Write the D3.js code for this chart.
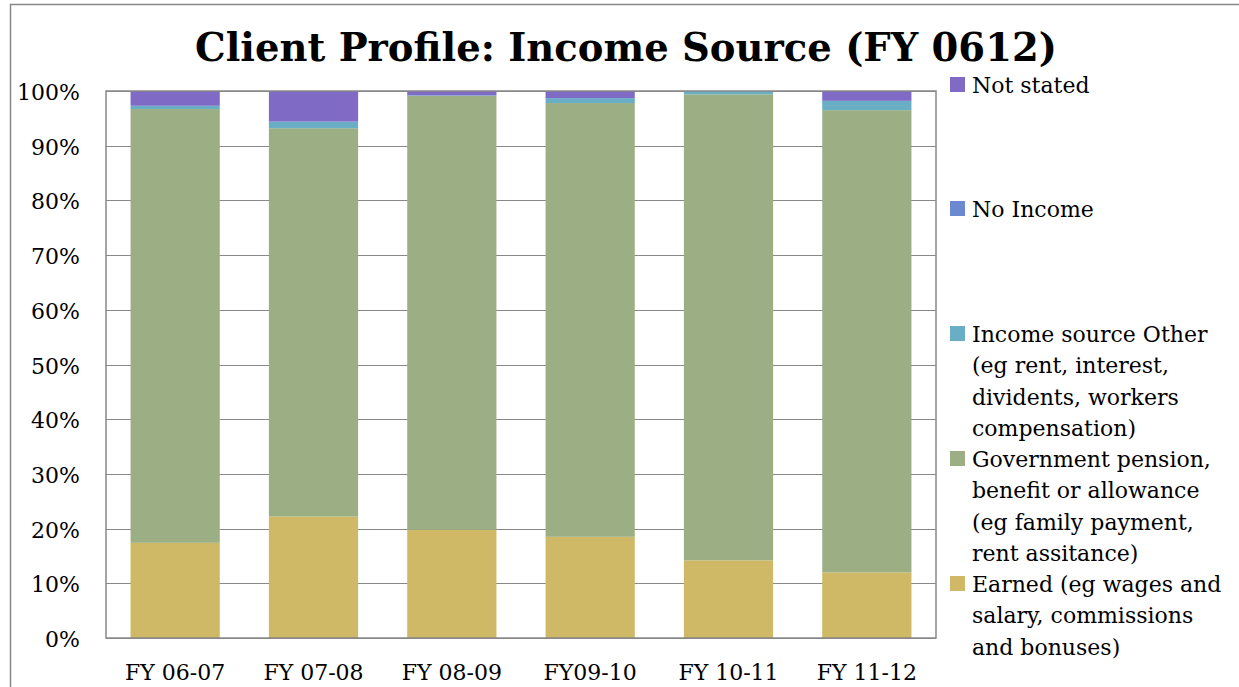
<!DOCTYPE html>
<html>
<head>
<meta charset="utf-8">
<script src="https://cdn.jsdelivr.net/npm/d3@7"></script>
<style>
  html, body { margin: 0; padding: 0; background: #fff; }
  svg text { font-family: "DejaVu Serif", "Liberation Serif", serif; fill: #000; }
</style>
</head>
<body>
<svg id="chart" width="1239" height="687"></svg>
<script>
// chart data (percent of clients)
const years = ["FY 06-07", "FY 07-08", "FY 08-09", "FY09-10", "FY 10-11", "FY 11-12"];
const earned = [17.4, 22.2, 19.8, 18.5, 14.2, 12.0];
const pension = [79.3, 71.0, 79.3, 79.3, 85.2, 84.5];
const other = [0.6, 1.2, 0.1, 0.9, 0.6, 1.7];
const noIncome = [0, 0, 0, 0, 0, 0];
const notStated = [2.7, 5.6, 0.8, 1.3, 0, 1.8];
const yTicks = [0, 10, 20, 30, 40, 50, 60, 70, 80, 90, 100];

const seriesNames = ["earned", "pension", "other", "noIncome", "notStated"];
const colors = {
  earned: "#cfb966",
  pension: "#9caf84",
  other: "#6aaec6",
  noIncome: "#6a89d0",
  notStated: "#7f6bc6"
};
const legendItems = [
  { key: "notStated", lines: ["Not stated"], y: 93 },
  { key: "noIncome", lines: ["No Income"], y: 217 },
  { key: "other", lines: ["Income source Other", "(eg rent, interest,", "dividents, workers", "compensation)"], y: 342 },
  { key: "pension", lines: ["Government pension,", "benefit or allowance", "(eg family payment,", "rent assitance)"], y: 467 },
  { key: "earned", lines: ["Earned (eg wages and", "salary, commissions", "and bonuses)"], y: 592 }
];

const table = years.map((y, i) => ({
  year: y,
  earned: earned[i],
  pension: pension[i],
  other: other[i],
  noIncome: noIncome[i],
  notStated: notStated[i]
}));

const svg = d3.select("#chart");
const margin = { top: 91, right: 303, bottom: 49, left: 106 };
const width = 1239, height = 687;

// outer chart border
svg.append("rect")
  .attr("x", 10.5).attr("y", 4.5)
  .attr("width", 1260).attr("height", 700)
  .attr("fill", "none")
  .attr("stroke", "#878787")
  .attr("stroke-width", 1.5);

const x = d3.scaleBand()
  .domain(years)
  .range([margin.left, width - margin.right])
  .paddingInner(0.355)
  .paddingOuter(0.1775);

const y = d3.scaleLinear()
  .domain([0, 100])
  .range([height - margin.bottom, margin.top]);

// gridlines
svg.append("g")
  .selectAll("line")
  .data(yTicks)
  .join("line")
  .attr("x1", margin.left).attr("x2", width - margin.right)
  .attr("y1", d => Math.round(y(d)) + 0.5).attr("y2", d => Math.round(y(d)) + 0.5)
  .attr("stroke", "#888")
  .attr("stroke-width", 1);

const stack = d3.stack().keys(seriesNames);
const layers = stack(table);

svg.append("g")
  .selectAll("g")
  .data(layers)
  .join("g")
  .attr("fill", d => colors[d.key])
  .selectAll("rect")
  .data(d => d)
  .join("rect")
  .attr("x", d => x(d.data.year))
  .attr("width", x.bandwidth())
  .attr("y", d => y(d[1]))
  .attr("height", d => y(d[0]) - y(d[1]));

// plot area border
svg.append("rect")
  .attr("x", margin.left).attr("y", margin.top)
  .attr("width", width - margin.left - margin.right)
  .attr("height", height - margin.top - margin.bottom)
  .attr("fill", "none")
  .attr("stroke", "#888")
  .attr("stroke-width", 1.5);

// y axis labels
svg.append("g")
  .selectAll("text")
  .data(yTicks)
  .join("text")
  .attr("x", 80)
  .attr("y", d => y(d) + 9)
  .attr("text-anchor", "end")
  .attr("font-size", 22)
  .text(d => d + "%");

// x axis labels
svg.append("g")
  .selectAll("text")
  .data(years)
  .join("text")
  .attr("x", d => x(d) + x.bandwidth() / 2)
  .attr("y", 680)
  .attr("text-anchor", "middle")
  .attr("font-size", 22)
  .text(d => d);

// title
svg.append("text")
  .attr("x", 626)
  .attr("y", 61)
  .attr("text-anchor", "middle")
  .attr("font-size", 38.5)
  .attr("font-weight", "bold")
  .text("Client Profile: Income Source (FY 0612)");

// legend
const lg = svg.append("g");
legendItems.forEach(item => {
  lg.append("rect")
    .attr("x", 950).attr("y", item.y - 16)
    .attr("width", 15).attr("height", 15)
    .attr("fill", colors[item.key]);
  lg.append("text")
    .attr("x", 972)
    .attr("font-size", 22)
    .selectAll("tspan")
    .data(item.lines)
    .join("tspan")
    .attr("x", 972)
    .attr("y", (d, i) => item.y + i * 31.3)
    .text(d => d);
});
</script>
</body>
</html>
